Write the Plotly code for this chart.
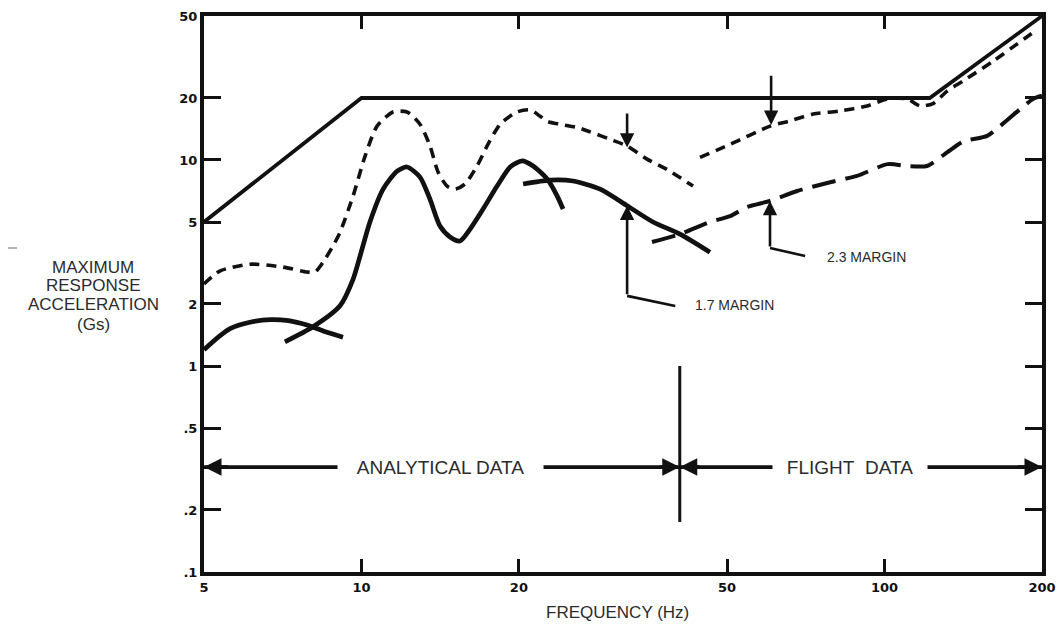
import numpy as np
import plotly.graph_objects as go

# Axis ticks
x_ticks = [5, 10, 20, 50, 100, 200]
x_tick_text = ["5", "10", "20", "50", "100", "200"]
y_ticks = [0.1, 0.2, 0.5, 1, 2, 5, 10, 20, 50]
y_tick_text = [".1", ".2", ".5", "1", "2", "5", "10", "20", "50"]

# Test specification envelope (Gs vs Hz)
spec_freq = [5, 10, 122, 200]
spec_g = [5, 20, 20, 50]

# Analytical response: low-frequency mode
anal1_freq = [5.0, 5.36, 5.61, 6.12, 6.70, 7.25, 7.87, 8.45, 9.22]
anal1_g = [1.2, 1.40, 1.52, 1.63, 1.68, 1.66, 1.58, 1.48, 1.38]

# Analytical response: primary modes
anal2_freq = [7.14, 8.08, 9.10, 9.64, 9.94, 10.38, 11.00, 11.70, 12.22, 12.94,
              13.52, 14.13, 14.77, 15.43, 16.13, 17.08, 18.17, 19.24, 20.28,
              21.29, 22.65, 23.66, 24.29]
anal2_g = [1.31, 1.55, 1.96, 2.64, 3.42, 5.0, 7.22, 8.83, 9.25, 8.26,
           6.45, 4.78, 4.23, 4.04, 4.62, 5.78, 7.47, 9.25, 9.9,
           9.35, 8.08, 6.7, 5.78]

# Analytical response: upper mode
anal3_freq = [20.37, 22.95, 25.38, 28.59, 32.2, 36.09, 40.64, 46.37]
anal3_g = [7.65, 7.99, 7.91, 7.22, 6.0, 5.0, 4.37, 3.57]

# Analytical response times margin
anal_margin_freq = [5.0, 5.36, 6.12, 7.08, 7.87, 8.15, 8.45, 8.82, 9.10, 9.64,
                    10.16, 10.71, 11.49, 12.22, 12.94, 13.52, 14.01, 14.58,
                    15.10, 15.78, 16.63, 17.46, 18.41, 19.84, 21.01, 21.96,
                    22.65, 23.97, 25.83, 27.35, 29.88, 32.2, 35.15, 38.38, 43.04]
anal_margin_g = [2.5, 2.89, 3.12, 3.02, 2.86, 2.86, 3.20, 3.82, 4.46, 6.70,
                 10.44, 14.6, 17.1, 17.1, 14.9, 11.7, 8.74, 7.47,
                 7.22, 7.65, 9.35, 11.95, 14.9, 17.1, 17.5, 16.3,
                 15.4, 14.9, 14.4, 13.7, 12.6, 11.7, 10.1, 9.0, 7.47]

# Flight data
flight_freq = [35.93, 40.64, 46.4, 50.66, 54.60, 60.42, 68.08, 78.70, 88.65,
               101.4, 110.5, 120.6, 131.7, 141.4, 157.1, 166.3, 192.4, 200]
flight_g = [4.0, 4.37, 5.0, 5.34, 5.91, 6.33, 7.07, 7.8, 8.37,
            9.55, 9.35, 9.35, 10.9, 12.3, 13.1, 14.6, 19.8, 20.5]

# Flight data times margin
flight_margin_freq = [44.38, 50.66, 60.42, 66.02, 73.07, 82.25, 92.64, 101.4,
                      110.5, 116.9, 123.8, 131.7, 141.4, 161.3, 195.8]
flight_margin_g = [10.3, 11.9, 14.6, 15.5, 16.7, 17.3, 18.3, 19.8,
                   19.8, 18.3, 18.8, 21.6, 24.2, 30.2, 43]

# Margin call-outs: arrow x, tail/tip levels, leader end, label anchor
m17_freq, m17_tail, m17_tip = 32.2, 2.19, 6.0
m17_leader_freq, m17_leader_g = 39.8, 1.955
m17_label_freq, m17_label_g = 43.0, 1.98
m23_freq, m23_tail, m23_tip = 60.4, 3.74, 6.33
m23_leader_freq, m23_leader_g = 70.5, 3.42
m23_label_freq, m23_label_g = 77.0, 3.38

# Down arrows onto the margin curves
down_freq = [32.2, 60.7]
down_tail = [17.1, 26.1]
down_tip = [11.5, 14.8]

# Data-source band
band_g = 0.323
band_freq = [5, 200]
split_freq = 40.6
split_g = [1.0, 0.175]
anal_label_freq = 14.13
flight_label_freq = 85.9

INK = "#111111"
TXT = "#2b2b2b"
L = np.log10

fig = go.Figure()


def curve(fx, gy, width=4.7, dash="solid", spline=True):
    fig.add_trace(go.Scatter(
        x=fx, y=gy, mode="lines", hoverinfo="skip",
        line=dict(color=INK, width=width, dash=dash,
                  shape="spline" if spline else "linear", smoothing=0.7),
    ))


curve(spec_freq, spec_g, width=3.8, spline=False)
curve(anal1_freq, anal1_g)
curve(anal2_freq, anal2_g)
curve(anal3_freq, anal3_g)
curve(anal_margin_freq, anal_margin_g, width=3.6, dash="10px,7px")
curve(flight_margin_freq, flight_margin_g, width=3.6, dash="10px,7px")
curve(flight_freq, flight_g, width=4.0, dash="24px,10px")

# Leader lines for margin labels
curve([m17_freq, m17_leader_freq], [m17_tail, m17_leader_g], width=2.6, spline=False)
curve([m23_freq, m23_leader_freq], [m23_tail, m23_leader_g], width=2.6, spline=False)

# Band line and divider
curve(band_freq, [band_g, band_g], width=3.6, spline=False)
curve([split_freq, split_freq], split_g, width=3.0, spline=False)

annotations = []


def arrow(fx, tail, tip, fx_tail=None, width=2.6, size=1.1):
    annotations.append(dict(
        x=L(fx), y=L(tip), ax=L(fx if fx_tail is None else fx_tail), ay=L(tail),
        xref="x", yref="y", axref="x", ayref="y", text="", showarrow=True,
        arrowhead=2, arrowsize=size, arrowwidth=width, arrowcolor=INK, standoff=0,
    ))


arrow(m17_freq, m17_tail, m17_tip)
arrow(m23_freq, m23_tail, m23_tip)
for f, t0, t1 in zip(down_freq, down_tail, down_tip):
    arrow(f, t0, t1)

# Band arrowheads
arrow(band_freq[0], band_g, band_g, fx_tail=band_freq[0] * 1.12, width=3.5, size=1.0)
arrow(band_freq[1], band_g, band_g, fx_tail=band_freq[1] / 1.12, width=3.5, size=1.0)
arrow(split_freq, band_g, band_g, fx_tail=split_freq / 1.1, width=3.5, size=1.0)
arrow(split_freq, band_g, band_g, fx_tail=split_freq * 1.1, width=3.5, size=1.0)

label_font = dict(family="Liberation Sans, Arial, sans-serif", color=TXT)

annotations += [
    dict(x=L(anal_label_freq), y=L(band_g), xref="x", yref="y", showarrow=False,
         text="ANALYTICAL DATA", bgcolor="white", width=203, height=22,
         font=dict(size=19, **label_font)),
    dict(x=L(flight_label_freq), y=L(band_g), xref="x", yref="y", showarrow=False,
         text="FLIGHT\u00a0 DATA", bgcolor="white", width=152, height=22,
         font=dict(size=19, **label_font)),
    dict(x=L(m17_label_freq), y=L(m17_label_g), xref="x", yref="y", showarrow=False,
         text="1.7 MARGIN", xanchor="left", font=dict(size=14, **label_font)),
    dict(x=L(m23_label_freq), y=L(m23_label_g), xref="x", yref="y", showarrow=False,
         text="2.3 MARGIN", xanchor="left", font=dict(size=14, **label_font)),
]

# Axis titles placed in paper space
PLOT_L, PLOT_R, PLOT_T, PLOT_B = 204, 1042, 16, 572


def px(xp, yp):
    return (xp - PLOT_L) / (PLOT_R - PLOT_L), (PLOT_B - yp) / (PLOT_B - PLOT_T)


for line_text, yp in zip(["MAXIMUM", "RESPONSE", "ACCELERATION", "(Gs)"],
                         [267, 285, 304, 324]):
    xx, yy = px(93, yp)
    annotations.append(dict(x=xx, y=yy, xref="paper", yref="paper", showarrow=False,
                            text=line_text, xanchor="center", yanchor="middle",
                            font=dict(size=17, **label_font)))

xx, yy = px(617, 612)
annotations.append(dict(x=xx, y=yy, xref="paper", yref="paper", showarrow=False,
                        text="FREQUENCY (Hz)", xanchor="center", yanchor="middle",
                        font=dict(size=17, **label_font)))

x0, y0 = px(8, 248)
x1, _ = px(17, 248)
shapes = [dict(type="line", xref="paper", yref="paper", x0=x0, x1=x1, y0=y0, y1=y0,
               line=dict(color="#999999", width=1.5))]

tick_font = dict(family="DejaVu Sans, sans-serif", size=13, color=INK, weight="bold")

fig.update_xaxes(
    type="log", range=[L(5), L(200)], tickvals=x_ticks, ticktext=x_tick_text,
    ticks="inside", ticklen=13, tickwidth=3, tickcolor=INK,
    showline=True, linewidth=4, linecolor=INK, mirror="ticks",
    showgrid=False, zeroline=False, tickfont=tick_font, automargin=False,
)
fig.update_yaxes(
    type="log", range=[L(0.1), L(50)], tickvals=y_ticks, ticktext=y_tick_text,
    ticks="inside", ticklen=17, tickwidth=3, tickcolor=INK,
    showline=True, linewidth=4, linecolor=INK, mirror="ticks",
    showgrid=False, zeroline=False, tickfont=tick_font, automargin=False,
)

fig.update_layout(
    width=1062, height=624,
    margin=dict(l=PLOT_L, r=1062 - PLOT_R, t=PLOT_T, b=624 - PLOT_B),
    plot_bgcolor="white", paper_bgcolor="white",
    showlegend=False, annotations=annotations, shapes=shapes,
)

fig.write_html("out.html")
